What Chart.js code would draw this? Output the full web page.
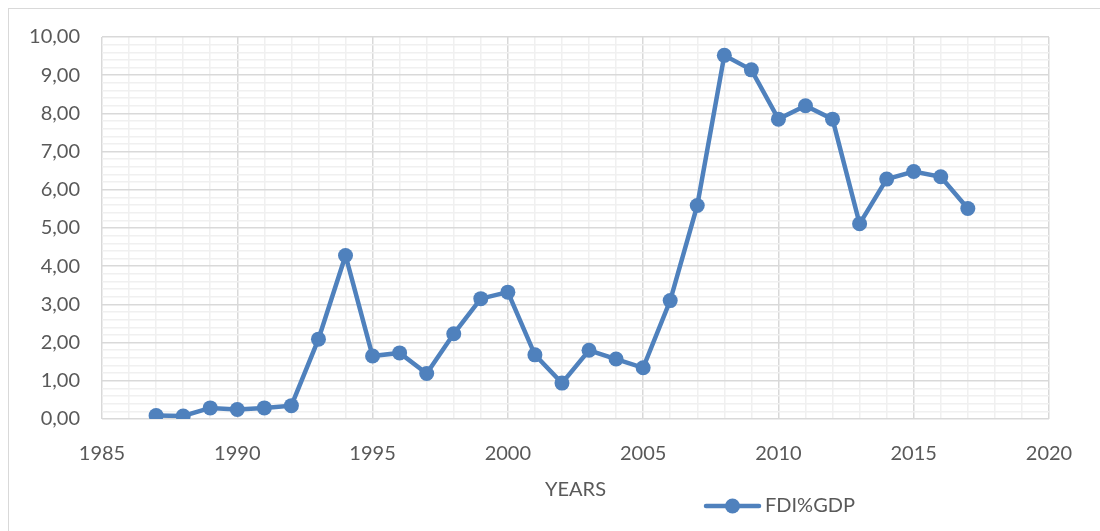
<!DOCTYPE html>
<html>
<head>
<meta charset="utf-8">
<title>FDI % GDP</title>
<script src="https://cdn.jsdelivr.net/npm/chart.js@4/dist/chart.umd.min.js"></script>
<style>
  html, body { margin: 0; padding: 0; background: #ffffff; overflow: hidden; }
  #frame {
    position: absolute; left: 8px; top: 8px; width: 1200px; height: 600px;
    border: 1.5px solid #d9d9d9; box-sizing: border-box;
  }
  #wrap { position: absolute; left: 0; top: 0; width: 1100px; height: 531px; }
</style>
</head>
<body>
<div id="frame"></div>
<div id="wrap"><canvas id="chart" width="1100" height="531"></canvas></div>
<script>
// Foreign direct investment as a share of GDP, by year
const years = [1987, 1988, 1989, 1990, 1991, 1992, 1993, 1994, 1995, 1996,
               1997, 1998, 1999, 2000, 2001, 2002, 2003, 2004, 2005, 2006,
               2007, 2008, 2009, 2010, 2011, 2012, 2013, 2014, 2015, 2016, 2017];
const fdiShare = [0.09, 0.08, 0.29, 0.25, 0.29, 0.35, 2.09, 4.28, 1.65, 1.73,
                  1.19, 2.23, 3.15, 3.32, 1.68, 0.94, 1.80, 1.57, 1.34, 3.10,
                  5.59, 9.52, 9.14, 7.85, 8.20, 7.85, 5.11, 6.28, 6.48, 6.34, 5.51];
const seriesName = 'FDI%GDP';
const axisTitleX = 'YEARS';
const xRange = [1985, 2020];
const yRange = [0, 10];

const lineBlue = '#4f81bd';
const textGrey = '#595959';
const majorGrid = '#d9d9d9';
const minorGrid = '#f0f0f0';
const fontFamily = 'Lato, "Open Sans", sans-serif';

// Legend drawn under the plot: a short line with a marker, then the series name
const lineLegend = {
  id: 'lineLegend',
  afterDraw(chart) {
    const ctx = chart.ctx;
    const ds = chart.data.datasets[0];
    const cy = 506, x0 = 706, x1 = 759;
    ctx.save();
    ctx.strokeStyle = ds.borderColor;
    ctx.lineWidth = ds.borderWidth;
    ctx.lineCap = 'round';
    ctx.beginPath();
    ctx.moveTo(x0, cy);
    ctx.lineTo(x1, cy);
    ctx.stroke();
    ctx.fillStyle = ds.pointBackgroundColor;
    ctx.beginPath();
    ctx.arc((x0 + x1) / 2, cy, ds.pointRadius, 0, Math.PI * 2);
    ctx.fill();
    ctx.fillStyle = textGrey;
    ctx.font = '20px ' + fontFamily;
    ctx.textBaseline = 'middle';
    ctx.textAlign = 'left';
    ctx.fillText(ds.label, 765, cy);
    ctx.restore();
  }
};

const isWhole = (v, step) => Math.abs(Math.round(v / step) * step - v) < 1e-6;

new Chart(document.getElementById('chart'), {
  type: 'line',
  data: {
    datasets: [{
      label: seriesName,
      data: years.map((y, i) => ({ x: y, y: fdiShare[i] })),
      borderColor: lineBlue,
      backgroundColor: lineBlue,
      borderWidth: 4.5,
      pointRadius: 7.5,
      pointHoverRadius: 7.5,
      pointBackgroundColor: lineBlue,
      pointBorderColor: lineBlue,
      pointBorderWidth: 0,
      tension: 0,
      fill: false
    }]
  },
  options: {
    responsive: false,
    animation: false,
    events: [],
    layout: { padding: { top: 37, right: 51, bottom: 0, left: 0 } },
    plugins: {
      legend: { display: false },
      tooltip: { enabled: false }
    },
    scales: {
      x: {
        type: 'linear',
        min: xRange[0],
        max: xRange[1],
        border: { display: false },
        grid: {
          drawTicks: false,
          lineWidth: 1.5,
          color: c => isWhole(c.tick.value, 5) ? majorGrid : minorGrid
        },
        ticks: {
          stepSize: 1,
          autoSkip: false,
          maxRotation: 0,
          padding: 23,
          color: textGrey,
          font: { family: fontFamily, size: 20 },
          callback: v => isWhole(v, 5) ? String(v) : ''
        },
        title: {
          display: true,
          text: axisTitleX,
          color: textGrey,
          font: { family: fontFamily, size: 20 },
          padding: { top: 0, bottom: 29 }
        },
        afterFit: s => { s.height = 112; }
      },
      y: {
        min: yRange[0],
        max: yRange[1],
        border: { display: false },
        grid: {
          drawTicks: false,
          lineWidth: 1.5,
          color: c => isWhole(c.tick.value, 1) ? majorGrid : minorGrid
        },
        ticks: {
          stepSize: 0.2,
          autoSkip: false,
          padding: 22,
          color: textGrey,
          font: { family: fontFamily, size: 20 },
          callback: v => isWhole(v, 1) ? Math.round(v).toFixed(2).replace('.', ',') : ''
        },
        afterFit: s => { s.width = 102; }
      }
    }
  },
  plugins: [lineLegend]
});
</script>
</body>
</html>
